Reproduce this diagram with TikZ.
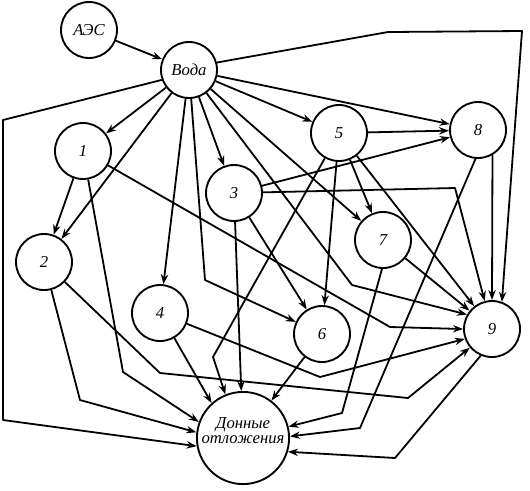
\documentclass[tikz,border=0pt]{standalone}
\usepackage{fontspec}
\setmainfont{Liberation Serif}
\usetikzlibrary{arrows.meta}
\begin{document}
\begin{tikzpicture}[x=0.75pt,y=-0.75pt,line join=round,
  nd/.style={circle,draw,line width=1.4pt,minimum size=42pt,inner sep=0pt,font=\fontsize{12.5}{11.5}\selectfont\itshape},
  bignd/.style={nd,minimum size=66pt,align=center},
  ed/.style={line width=1.35pt,-{Stealth[length=7.5pt,width=5.5pt]}}]
\useasboundingbox (0,0) rectangle (530,490);
% nodes
\node[nd] (A) at (89,30) {АЭС};
\node[nd] (W) at (189,70) {Вода};
\node[nd] (n1) at (83,151) {1};
\node[nd] (n2) at (44,262) {2};
\node[nd] (n3) at (234,193) {3};
\node[nd] (n4) at (160,313) {4};
\node[nd] (n5) at (339,133) {5};
\node[nd] (n6) at (322,334) {6};
\node[nd] (n7) at (383,240) {7};
\node[nd] (n8) at (478,130) {8};
\node[nd] (n9) at (492,329) {9};
\node[bignd] (D) at (243,438) {Донные\\отложения\\[-4pt]\strut};
% bend points
\coordinate (b6) at (205,280);
\coordinate (b9) at (352,285);
\coordinate (f1) at (388,32);
\coordinate (f2) at (522,31);
\coordinate (l1) at (3,120);
\coordinate (l2) at (3,420);
\coordinate (c19) at (390,327);
\coordinate (c1D) at (123,372);
\coordinate (c2D) at (80,400);
\coordinate (c29a) at (160,373);
\coordinate (c29b) at (408,398);
\coordinate (c39) at (455,188);
\coordinate (c49) at (320,377);
\coordinate (c5D) at (213,357);
\coordinate (c7D) at (342,413);
\coordinate (c8D) at (360,428);
\coordinate (c9D) at (395,458);
% edges
\draw[ed] (A) -- (W);
\draw[ed] (W) -- (n1);
\draw[ed] (W) -- (n2);
\draw[ed] (W) -- (n3);
\draw[ed] (W) -- (n4);
\draw[ed] (W) -- (n5);
\draw[ed] (W) -- (b6) -- (n6);
\draw[ed] (W) -- (n7);
\draw[ed] (W) -- (n8);
\draw[ed] (W.15) -- (f1) -- (f2) -- (n9.70);
\draw[ed] (W) -- (b9) -- (n9.150);
\draw[ed] (W.200) -- (l1) -- (l2) -- (D.190);
\draw[ed] (n1) -- (n2);
\draw[ed] (n1) -- (c19) -- (n9.180);
\draw[ed] (n1) -- (c1D) -- (D.160);
\draw[ed] (n2) -- (c2D) -- (D.173);
\draw[ed] (n2) -- (c29a) -- (c29b) -- (n9.220);
\draw[ed] (n3) -- (n6);
\draw[ed] (n3) -- (n8);
\draw[ed] (n3) -- (c39) -- (n9);
\draw[ed] (n3) -- (D);
\draw[ed] (n4) -- (D.132);
\draw[ed] (n4) -- (c49) -- (n9.200);
\draw[ed] (n5) -- (n6);
\draw[ed] (n5) -- (n7);
\draw[ed] (n5) -- (n8);
\draw[ed] (n5) -- (n9);
\draw[ed] (n5) -- (c5D) -- (D.112);
\draw[ed] (n6) -- (D);
\draw[ed] (n7) -- (n9);
\draw[ed] (n7.-92) -- (c7D) -- (D.14);
\draw[ed] (n8.-60) -- (n9.90);
\draw[ed] (n8.-95) -- (c8D) -- (D.2);
\draw[ed] (n9.-113) -- (c9D) -- (D.-17);
\end{tikzpicture}
\end{document}
